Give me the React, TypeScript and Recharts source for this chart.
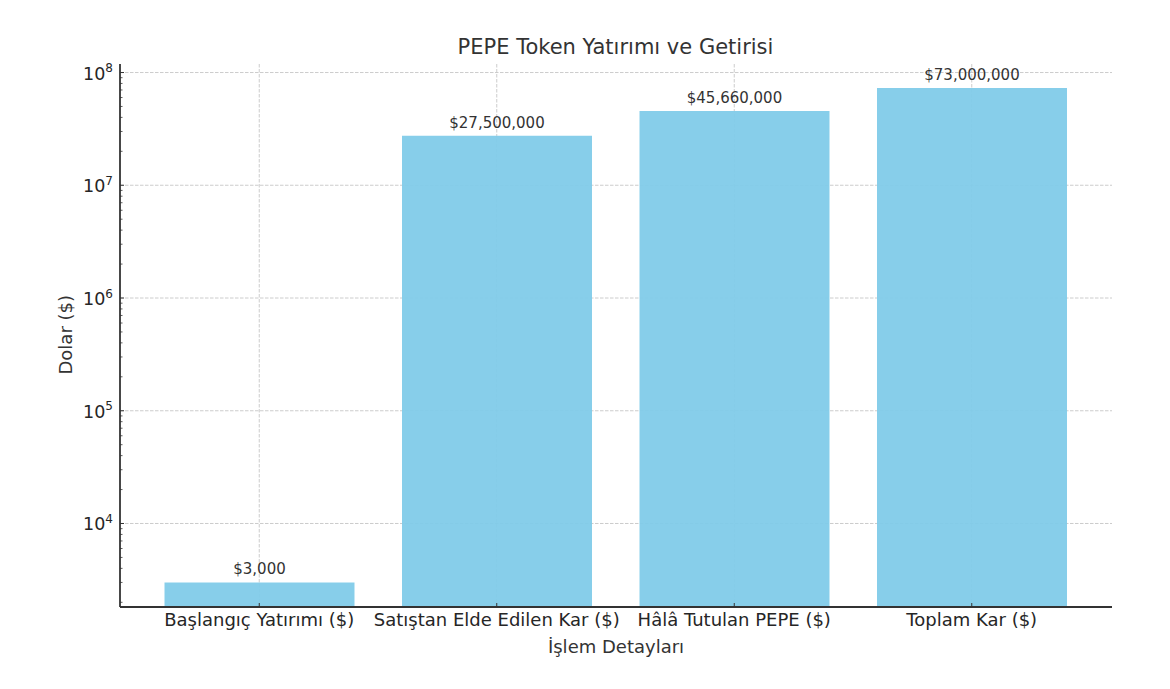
import { BarChart, Bar, XAxis, YAxis, CartesianGrid, LabelList } from "recharts";

const categories = [
  "Başlangıç Yatırımı ($)",
  "Satıştan Elde Edilen Kar ($)",
  "Hâlâ Tutulan PEPE ($)",
  "Toplam Kar ($)",
];
const amounts = [3000, 27500000, 45660000, 73000000];

const majorTicks = [1e4, 1e5, 1e6, 1e7, 1e8];
const minorTicks = [
  2e3, 3e3, 4e3, 5e3, 6e3, 7e3, 8e3, 9e3,
  2e4, 3e4, 4e4, 5e4, 6e4, 7e4, 8e4, 9e4,
  2e5, 3e5, 4e5, 5e5, 6e5, 7e5, 8e5, 9e5,
  2e6, 3e6, 4e6, 5e6, 6e6, 7e6, 8e6, 9e6,
  2e7, 3e7, 4e7, 5e7, 6e7, 7e7, 8e7, 9e7,
];
const yDomain = [1817, 1.19e8];

const data = categories.map((name, i) => ({ name, value: amounts[i] }));

const FONT = "'DejaVu Sans', sans-serif";
const formatUsd = (v: number) => "$" + v.toLocaleString("en-US");

function LogTick({ x, y, payload }: { x?: number; y?: number; payload?: { value: number } }) {
  const value = payload!.value;
  const isMajor = majorTicks.includes(value);
  if (!isMajor) {
    return <line x1={x} x2={x! + 2.5} y1={y} y2={y} stroke="#333" strokeWidth={0.8} />;
  }
  return (
    <g>
      <line x1={x} x2={x! + 4} y1={y} y2={y} stroke="#333" strokeWidth={1} />
      <text x={x! - 7} y={y! + 7} textAnchor="end" fontFamily={FONT} fontSize={17.5} fill="#262626">
        10
        <tspan dy={-7.5} fontSize={12}>{Math.round(Math.log10(value))}</tspan>
      </text>
    </g>
  );
}

function CategoryTick({ x, y, payload }: { x?: number; y?: number; payload?: { value: string } }) {
  return (
    <g>
      <line x1={x} x2={x} y1={y! - 4} y2={y} stroke="#333" strokeWidth={1} />
      <text x={x} y={y! + 19} textAnchor="middle" fontFamily={FONT} fontSize={18} fill="#262626">
        {payload!.value}
      </text>
    </g>
  );
}

export default function App() {
  return (
    <div style={{ position: "absolute", left: 0, top: 0, width: 1170, height: 689, background: "#fff" }}>
      <BarChart
        width={1170}
        height={689}
        data={data}
        margin={{ top: 64, right: 58, bottom: 0, left: 0 }}
      >
        <text x={615.5} y={54} textAnchor="middle" fontFamily={FONT} fontSize={21} fill="#333">
          PEPE Token Yatırımı ve Getirisi
        </text>
        <CartesianGrid
          stroke="#c6c6c6"
          strokeDasharray="3.5 1.5"
          strokeWidth={0.9}
          horizontalValues={majorTicks}
          verticalValues={categories}
        />
        <XAxis
          dataKey="name"
          height={82}
          padding={{ left: 20.5, right: 21.5 }}
          interval={0}
          tick={<CategoryTick />}
          tickLine={false}
          tickSize={0}
          tickMargin={0}
          axisLine={{ stroke: "#333", strokeWidth: 1.8 }}
          label={{
            value: "İşlem Detayları",
            position: "insideBottom",
            offset: 36,
            fontFamily: FONT,
            fontSize: 18,
            fill: "#333",
          }}
        />
        <YAxis
          width={120}
          scale="log"
          domain={yDomain}
          allowDataOverflow
          ticks={[...minorTicks, ...majorTicks]}
          interval={0}
          tick={<LogTick />}
          tickLine={false}
          tickSize={0}
          tickMargin={0}
          axisLine={{ stroke: "#333", strokeWidth: 1.8 }}
          label={{
            value: "Dolar ($)",
            angle: -90,
            position: "insideLeft",
            offset: 0,
            dx: 66,
            dy: 39,
            fontFamily: FONT,
            fontSize: 18,
            fill: "#333",
          }}
        />
        <Bar dataKey="value" fill="#80CBE9" fillOpacity={0.94} barSize={190} isAnimationActive={false}>
          <LabelList
            dataKey="value"
            position="top"
            offset={8}
            formatter={formatUsd}
            fontFamily={FONT}
            fontSize={15}
            fill="#333"
          />
        </Bar>
      </BarChart>
    </div>
  );
}
